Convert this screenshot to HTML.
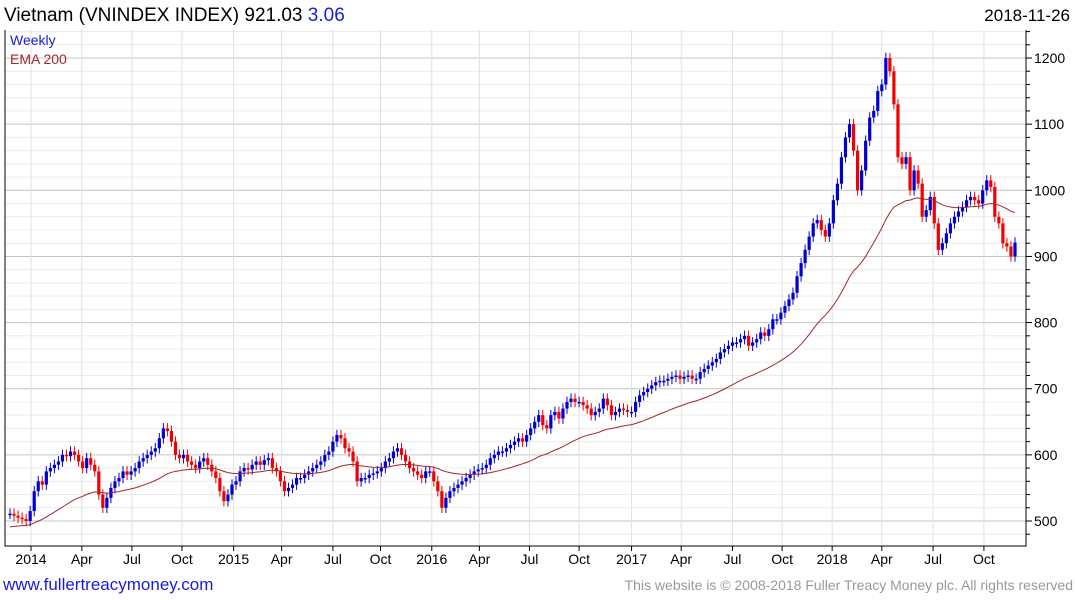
<!DOCTYPE html>
<html><head><meta charset="utf-8"><style>
body{margin:0;background:#fff;width:1075px;height:600px;overflow:hidden;font-family:"Liberation Sans",sans-serif}
svg{position:absolute;left:0;top:0}
</style></head><body>
<svg width="1075" height="600">
<g id="grid"></g>
<g id="marks"></g>
<path id="ema" fill="none" stroke="#a0282a" stroke-width="1"/>
<g id="axes"></g>
<text x="4" y="21" font-size="19">Vietnam (VNINDEX INDEX) 921.03 <tspan fill="#1a1adb">3.06</tspan></text>
<text x="1070" y="21" font-size="17" text-anchor="end">2018-11-26</text>
<text x="10" y="45" font-size="14" fill="#1a1adb">Weekly</text>
<text x="10" y="64" font-size="14" fill="#a0282a">EMA 200</text>
<text x="3" y="590" font-size="17" fill="#1a1adb">www.fullertreacymoney.com</text>
<text x="1073" y="590" font-size="14" fill="#999" text-anchor="end">This website is © 2008-2018 Fuller Treacy Money plc. All rights reserved</text>
</svg>
<script>
const closes=[511,508,505,503,500,
515,545,560,555, 575,580,585,590, 600,598,605,600, 590,580,595,585, 575,540,520,535,550, 560,565,575,570, 575,580,590,595, 600,605,610,625, 640,636,620,600, 595,600,590,585,580, 590,595,585,575, 565,545,530,540,
555,560,575,580, 578,585,590,585, 592,595,580,575, 560,545,550,555, 565,565,570,575,580, 585,590,600,605, 620,630,625,610, 605,590,560,565, 565,570,572,575, 580,590,595,605,610, 600,590,580,575, 570,565,575,575,
560,545,520,535, 545,550,555,560, 565,570,575,578, 580,585,595,600, 605,605,610,615,620, 625,620,630,640, 650,660,645,640, 660,665,655,670, 680,685,680,680, 675,670,660,665,670, 685,675,660,665, 670,668,665,665,
680,690,695,700, 705,710,712,712, 715,718,720,715, 718,720,715,715, 725,730,735,740,745, 755,760,765,770, 770,775,780,765, 770,775,785,780, 790,805,805,815, 825,835,845,870,890, 910,930,950,955, 940,930,950,985,
1010,1050,1080,1100, 1060,1000,1030,1075, 1110,1120,1150,1160, 1200,1180,1130,1050,1040, 1050,1000,1030,1010, 960,970,990,950, 910,920,935,950, 960,968,975,985, 990,985,980,1000, 1015,1005,960,950, 920,915,900,921];
const yTicks=[500,600,700,800,900,1000,1100,1200];
const xLabels=["2014","Apr","Jul","Oct","2015","Apr","Jul","Oct","2016","Apr","Jul","Oct","2017","Apr","Jul","Oct","2018","Apr","Jul","Oct"];
const xLabelWeek=[5.2,17.8,30.2,42.6,55.4,67.3,80,91.8,104.5,116.3,128.7,141,154,166.3,179,191.3,203.7,216,228.7,241.3];
const emaSeed=490, emaPeriod=40, wick=8;
const NS="http://www.w3.org/2000/svg";
const L=5,R=1026,T=30,B=546;
const y=v=>521-(v-500)*0.6614;
const x=i=>10+i*(1015-10)/(closes.length-1);
function mk(tag,at,par){const e=document.createElementNS(NS,tag);for(const k in at)e.setAttribute(k,at[k]);par.appendChild(e);return e;}
const grid=document.getElementById('grid'),marks=document.getElementById('marks'),axes=document.getElementById('axes');
for(let v=480;v<=1240;v+=20){const yy=y(v);if(yy<T||yy>B)continue;
 const g=mk('line',{x1:L,x2:R,y1:yy,y2:yy,stroke:v%100===0?'#c4c4c4':'#ececec','stroke-width':1},grid);
 
 const t=mk('line',{x1:R,x2:R+(v%100===0?6:4),y1:yy,y2:yy,stroke:'#000'},axes);
 }
yTicks.forEach(v=>{const t=mk('text',{x:1034,y:y(v)+5,'font-size':14},axes);t.textContent=v;
 });
xLabels.forEach((s,k)=>{const xx=x(xLabelWeek[k]);
 const g=mk('line',{x1:xx,x2:xx,y1:T,y2:B,stroke:'#e0e0e0'},grid);
 
 const t=mk('line',{x1:xx,x2:xx,y1:B,y2:B+5,stroke:'#000'},axes);
 
 const lb=mk('text',{x:xx,y:564,'font-size':14,'text-anchor':'middle'},axes);lb.textContent=s;
 });
const fr=mk('path',{d:`M${L} ${T}V${B}H${R}V${T}`,fill:'none',stroke:'#000'},axes);

let ema=emaSeed,d='';const a=2/(emaPeriod+1);
closes.forEach((c,i)=>{const o=i?closes[i-1]:c;const up=c>=o;const col=up?'#0000d0':'#f00000';
 const hi=Math.max(o,c)+wick,lo=Math.min(o,c)-wick;const xx=x(i);
 const w=mk('line',{x1:xx,x2:xx,y1:y(hi),y2:y(lo),stroke:col},marks);
 
 const top=y(Math.max(o,c)),bh=Math.max(1.5,y(Math.min(o,c))-top);
 const b=mk('rect',{x:xx-1.6,y:top,width:3.2,height:bh,fill:col},marks);
 
 ema=ema+a*(c-ema);d+=(i?'L':'M')+xx.toFixed(1)+' '+y(ema).toFixed(1);});
document.getElementById('ema').setAttribute('d',d);
</script>
</body></html>
